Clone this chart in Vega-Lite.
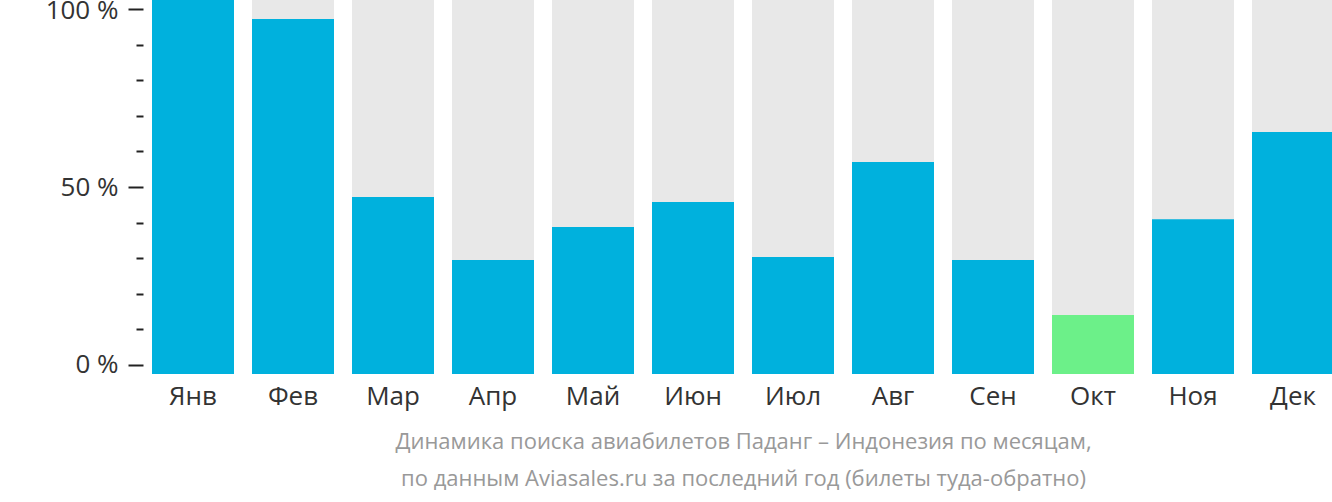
{
  "$schema": "https://vega.github.io/schema/vega-lite/v6.json",
  "width": 1182,
  "height": 374,
  "autosize": "none",
  "padding": {"left": 152, "top": 0, "right": 0, "bottom": 128},
  "background": "#ffffff",
  "config": {"view": {"stroke": null}, "font": "Open Sans"},
  "data": {
    "values": [
      {"month": "Янв", "value": 100},
      {"month": "Фев", "value": 94.9},
      {"month": "Мар", "value": 47.3},
      {"month": "Апр", "value": 30.5},
      {"month": "Май", "value": 39.3},
      {"month": "Июн", "value": 46.0},
      {"month": "Июл", "value": 31.3},
      {"month": "Авг", "value": 56.7},
      {"month": "Сен", "value": 30.5},
      {"month": "Окт", "value": 15.8},
      {"month": "Ноя", "value": 41.4},
      {"month": "Дек", "value": 64.7}
    ]
  },
  "encoding": {
    "x": {
      "field": "month",
      "type": "nominal",
      "sort": null,
      "scale": {"paddingInner": 0.18, "paddingOuter": 0},
      "axis": {
        "labelAngle": 0,
        "labelFontSize": 26,
        "labelColor": "#333333",
        "labelPadding": 9,
        "ticks": false,
        "domain": false,
        "title": ["Динамика поиска авиабилетов Паданг – Индонезия по месяцам,", "по данным Aviasales.ru за последний год (билеты туда-обратно)"],
        "titleFontSize": 22,
        "titleFontWeight": "normal",
        "titleColor": "#999999",
        "titleLineHeight": 37,
        "titlePadding": 22
      }
    }
  },
  "layer": [
    {
      "mark": {"type": "bar", "color": "#e8e8e8"},
      "encoding": {
        "y": {"datum": 100, "type": "quantitative", "scale": {"domain": [0, 100]}, "axis": null},
        "y2": {"datum": 0}
      }
    },
    {
      "transform": [{"joinaggregate": [{"op": "min", "field": "value", "as": "minValue"}]}],
      "mark": {"type": "bar"},
      "encoding": {
        "y": {"field": "value", "type": "quantitative", "scale": {"domain": [0, 100]}, "axis": null},
        "y2": {"datum": 0},
        "color": {"condition": {"test": "datum.value === datum.minValue", "value": "#6cf089"}, "value": "#00b1dd"}
      }
    },
    {
      "mark": {"type": "rule", "opacity": 0},
      "encoding": {
        "y": {
          "datum": 0,
          "type": "quantitative",
          "scale": {"domain": [-2.53, 102.53], "nice": false, "zero": false},
          "axis": {
            "orient": "left",
            "offset": 9,
            "domain": false,
            "grid": false,
            "title": null,
            "values": [0, 10, 20, 30, 40, 50, 60, 70, 80, 90, 100],
            "labelExpr": "datum.value % 50 === 0 ? datum.value + ' %' : ''",
            "labelFontSize": 26,
            "labelColor": "#333333",
            "labelPadding": 10,
            "labelOffset": {"condition": {"test": "datum.value === 100", "value": 1.5}, "value": 0},
            "tickColor": "#222222",
            "tickWidth": 2,
            "tickSize": {"condition": {"test": "datum.value % 50 === 0", "value": 15}, "value": 7}
          }
        }
      }
    }
  ],
  "resolve": {"scale": {"y": "independent"}}
}
